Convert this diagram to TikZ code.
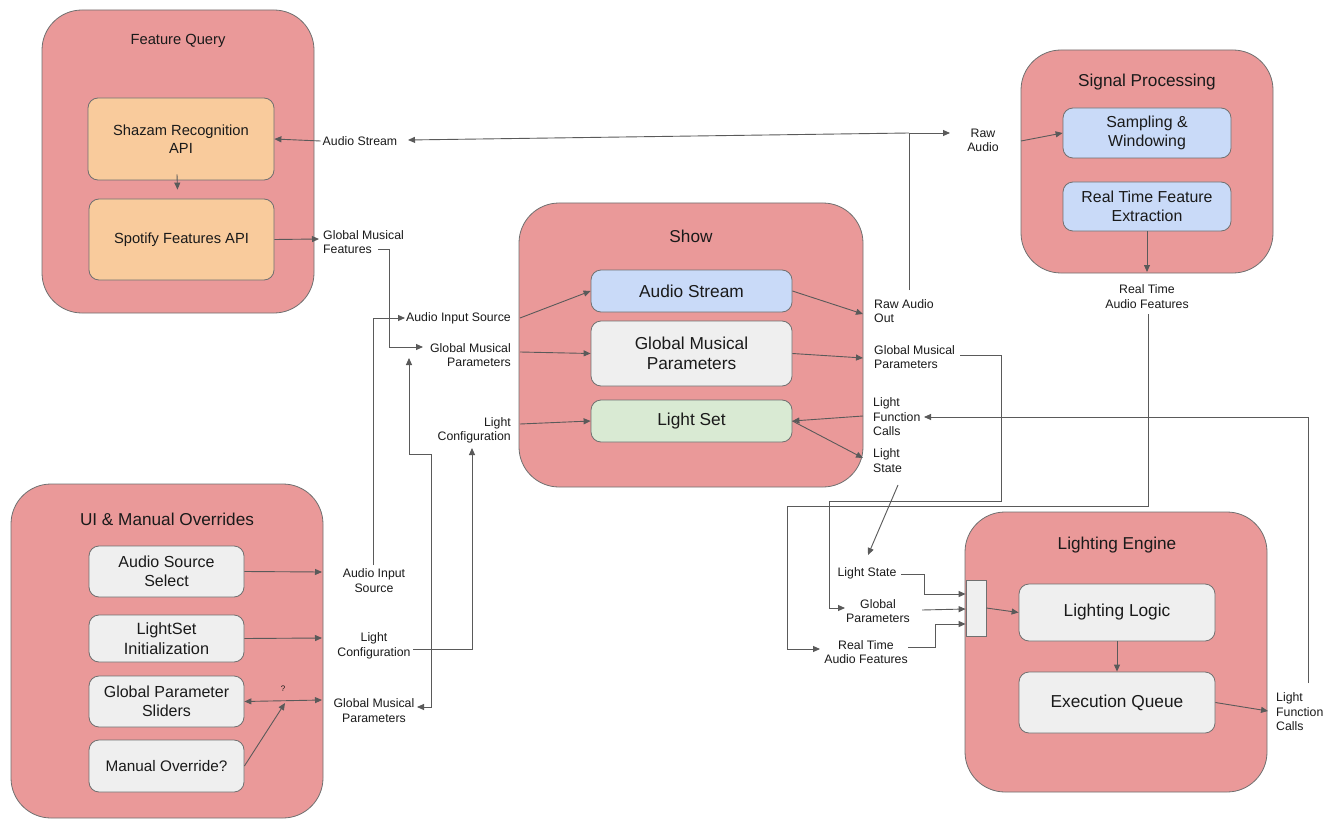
\documentclass[tikz,border=0pt]{standalone}
\usepackage{fontspec}
\setmainfont{Liberation Sans}
\usetikzlibrary{arrows.meta}
\definecolor{pinkF}{HTML}{EA9999}
\definecolor{orangeF}{HTML}{F9CB9C}
\definecolor{blueF}{HTML}{C9DAF8}
\definecolor{grayF}{HTML}{EFEFEF}
\definecolor{greenF}{HTML}{D9EAD3}
\definecolor{edgeC}{HTML}{707070}
\definecolor{lineC}{HTML}{5A5A5A}
\definecolor{txtC}{HTML}{1A1A1A}
\begin{document}
\begin{tikzpicture}[x=1pt,y=-1pt,
  outer/.style={draw=edgeC, fill=pinkF, rounded corners=40pt, line width=0.8pt, inner sep=0pt},
  inner/.style={draw=edgeC, rounded corners=10pt, line width=0.8pt, inner sep=0pt, align=center, text=txtC},
  ttl/.style={inner sep=0pt, text=txtC, font=\fontsize{17.2}{20}\selectfont},
  lbl/.style={inner sep=0pt, text=txtC, font=\fontsize{12.3}{14.5}\selectfont},
  conn/.style={draw=lineC, line width=0.9pt, -{Triangle[length=7pt,width=6pt]}},
  conn2/.style={draw=lineC, line width=0.9pt, {Triangle[length=7pt,width=6pt]}-{Triangle[length=7pt,width=6pt]}},
  plain/.style={draw=lineC, line width=0.9pt}
]
\useasboundingbox (0,0) rectangle (1335,821);
\fill[white] (0,0) rectangle (1335,821);

% ---------- Feature Query ----------
\node[outer, minimum width=272, minimum height=303] (fq) at (178,161.5) {};
\node[ttl, font=\fontsize{14.7}{17}\selectfont] (fqT) at (178,41) {Feature Query};
\node[inner, fill=orangeF, minimum width=186, minimum height=82, font=\fontsize{14.7}{18}\selectfont] (shazam) at (181,139) {Shazam Recognition\\API};
\node[inner, fill=orangeF, minimum width=185, minimum height=81, font=\fontsize{14.7}{18}\selectfont] (spotify) at (181.5,239.5) {Spotify Features API};

% ---------- Signal Processing ----------
\node[outer, minimum width=252, minimum height=223] (sp) at (1147,161.5) {};
\node[ttl] (spT) at (1147,82) {Signal Processing};
\node[inner, fill=blueF, minimum width=168, minimum height=50, font=\fontsize{15.9}{19.5}\selectfont] (samp) at (1147,133) {Sampling \&\\Windowing};
\node[inner, fill=blueF, minimum width=168, minimum height=49, font=\fontsize{15.9}{19.5}\selectfont] (rtfe) at (1147,206.5) {Real Time Feature\\Extraction};

% ---------- Show ----------
\node[outer, minimum width=344, minimum height=284] (show) at (691,345) {};
\node[ttl] (showT) at (691,236) {Show};
\node[inner, fill=blueF, minimum width=201, minimum height=42, font=\fontsize{17.3}{20}\selectfont] (astream) at (691.5,291) {Audio Stream};
\node[inner, fill=grayF, minimum width=201, minimum height=65, font=\fontsize{17.3}{20}\selectfont] (gmp) at (691.5,353.5) {Global Musical\\Parameters};
\node[inner, fill=greenF, minimum width=201, minimum height=42, font=\fontsize{17.3}{20}\selectfont] (lset) at (691.5,421) {Light Set};

% ---------- UI & Manual Overrides ----------
\node[outer, minimum width=312, minimum height=334] (ui) at (167,651) {};
\node[ttl] (uiT) at (167,519) {UI \& Manual Overrides};
\node[inner, fill=grayF, minimum width=155, minimum height=51, font=\fontsize{16}{19.5}\selectfont] (ass) at (166.5,571.5) {Audio Source\\Select};
\node[inner, fill=grayF, minimum width=155, minimum height=47, font=\fontsize{16.3}{20}\selectfont] (lsi) at (166.5,638.5) {LightSet\\Initialization};
\node[inner, fill=grayF, minimum width=155, minimum height=51, font=\fontsize{16}{19.5}\selectfont] (gps) at (166.5,701.5) {Global Parameter\\Sliders};
\node[inner, fill=grayF, minimum width=155, minimum height=52, font=\fontsize{15.3}{19}\selectfont] (mo) at (166.5,766) {Manual Override?};

% ---------- Lighting Engine ----------
\node[outer, minimum width=302, minimum height=280] (le) at (1116,652) {};
\node[ttl] (leT) at (1117,545) {Lighting Engine};
\node[inner, fill=grayF, minimum width=196, minimum height=57, font=\fontsize{17.3}{20}\selectfont] (ll) at (1117,612.5) {Lighting Logic};
\node[inner, fill=grayF, minimum width=196, minimum height=61, font=\fontsize{17.3}{20}\selectfont] (eq) at (1117,702.5) {Execution Queue};
\node[draw=edgeC, fill=grayF, line width=0.8pt, inner sep=0pt, minimum width=20, minimum height=56] (mux) at (976,608) {};

% ---------- Labels ----------
\node[lbl] (lAS) at (360,141) {Audio Stream};
\node[lbl, anchor=west, align=left] (lGMF) at (323,242) {Global Musical\\Features};
\node[lbl, anchor=west] (lAIS) at (406,318) {Audio Input Source};
\node[lbl, anchor=east, align=right] (lGMP1) at (511,355) {Global Musical\\Parameters};
\node[lbl, anchor=east, align=right] (lLC1) at (511,430.5) {Light\\Configuration};
\node[lbl, align=center] (lRA) at (983,140.5) {Raw\\Audio};
\node[lbl, align=center] (lRTAF) at (1147,296.5) {Real Time\\Audio Features};
\node[lbl, anchor=west, align=left] (lRAO) at (874,311) {Raw Audio\\Out};
\node[lbl, anchor=west, align=left] (lGMP2) at (874,357) {Global Musical\\Parameters};
\node[lbl, anchor=west, align=left] (lLFC1) at (873,417) {Light\\Function\\Calls};
\node[lbl, anchor=west, align=left] (lLS1) at (873,460.5) {Light\\State};
\node[lbl] (lLS2) at (867,573.5) {Light State};
\node[lbl, align=center] (lGP) at (878,611) {Global\\Parameters};
\node[lbl, align=center] (lRTAF2) at (866,652) {Real Time\\Audio Features};
\node[lbl, anchor=west, align=left] (lLFC2) at (1276,712) {Light\\Function\\Calls};
\node[lbl, align=center] (lAIS2) at (374,580.5) {Audio Input\\Source};
\node[lbl, align=center] (lLC2) at (374,646) {Light\\Configuration};
\node[lbl, align=center] (lGMP3) at (374,710.5) {Global Musical\\Parameters};
\node[inner sep=0pt, text=txtC, font=\fontsize{8}{9}\selectfont] (qm) at (283,689) {?};

% ---------- connector coordinates ----------
\coordinate (gmfIn) at (319,239);
\coordinate (gmfOut) at (378,249);
\coordinate (gmpA) at (389,249);
\coordinate (gmpB) at (389,347);
\coordinate (gmp1In) at (423,347);
\coordinate (aisA) at (373,565);
\coordinate (aisB) at (373,318);
\coordinate (ais1In) at (405,318);
\coordinate (gmp3In) at (417,707);
\coordinate (gA) at (431,707);
\coordinate (gB) at (431,454);
\coordinate (gC) at (409,454);
\coordinate (gmp1Up) at (409,358);
\coordinate (lc2Out) at (413,649);
\coordinate (lcA) at (472,649);
\coordinate (lc1In) at (472,448);
\coordinate (ais1Out) at (520,318);
\coordinate (gmp1Out) at (520,352);
\coordinate (lc1Out) at (520,424);
\coordinate (raoIn) at (863,314);
\coordinate (gmp2In) at (863,358);
\coordinate (lfc1Out) at (863,416);
\coordinate (ls1In) at (863,458);
\coordinate (raoOut) at (909,290);
\coordinate (rj) at (909,133);
\coordinate (asIn) at (408,140);
\coordinate (raIn) at (950,133);
\coordinate (raOut) at (1021,141);
\coordinate (rtafIn) at (1147,272);
\coordinate (rtafOut) at (1148,314);
\coordinate (rA) at (1148,506);
\coordinate (rB) at (787,506);
\coordinate (rC) at (787,649);
\coordinate (rtaf2In) at (820,649);
\coordinate (gmp2Out) at (960,355);
\coordinate (pA) at (1001,355);
\coordinate (pB) at (1001,501);
\coordinate (pC) at (829,501);
\coordinate (pD) at (829,608);
\coordinate (gpIn) at (845,608);
\coordinate (ls1Out) at (898,485);
\coordinate (ls2In) at (868,555);
\coordinate (ls2Out) at (901,574);
\coordinate (sA) at (924,574);
\coordinate (sB) at (924,594);
\coordinate (gpOut) at (922,610);
\coordinate (rt2Out) at (908,647);
\coordinate (tA) at (935,647);
\coordinate (tB) at (935,624);
\coordinate (lfc2In) at (1268,711);
\coordinate (fA) at (1308,683);
\coordinate (fB) at (1308,417);
\coordinate (lfc1In) at (924,417);
\coordinate (aisOutUI) at (322,572);
\coordinate (lcOutUI) at (322,638);
\coordinate (gmpOutUI) at (322,700);
\coordinate (qIn) at (285,703);

% ---------- connectors ----------
\draw[conn] (lAS.west) ++(-2,0) -- (shazam.east);
\draw[conn] (shazam.south) ++(-4,-6) -- ([xshift=-4pt, yshift=9pt]spotify.north);
\draw[conn] (spotify.east) -- (gmfIn);
\draw[conn] (gmfOut) -- (gmpA) -- (gmpB) -- (gmp1In);
\draw[conn] (aisA) -- (aisB) -- (ais1In);
\draw[conn2] (gmp3In) -- (gA) -- (gB) -- (gC) -- (gmp1Up);
\draw[conn] (lc2Out) -- (lcA) -- (lc1In);
\draw[conn] (ais1Out) -- (astream.west);
\draw[conn] (gmp1Out) -- (gmp.west);
\draw[conn] (lc1Out) -- (lset.west);
\draw[conn] (astream.east) -- (raoIn);
\draw[conn] (gmp.east) -- (gmp2In);
\draw[conn] (lfc1Out) -- (lset.east);
\draw[conn] (lset.east) -- (ls1In);
\draw[plain] (raoOut) -- (rj);
\draw[conn] (rj) -- (asIn);
\draw[conn] (rj) -- (raIn);
\draw[conn] (raOut) -- (samp.west);
\draw[conn] (rtfe.south) -- (rtafIn);
\draw[conn] (rtafOut) -- (rA) -- (rB) -- (rC) -- (rtaf2In);
\draw[conn] (gmp2Out) -- (pA) -- (pB) -- (pC) -- (pD) -- (gpIn);
\draw[conn] (ls1Out) -- (ls2In);
\draw[conn] (ls2Out) -- (sA) -- (sB) -- (sB -| mux.west);
\draw[conn] (gpOut) -- ([yshift=-1pt]mux.west);
\draw[conn] (rt2Out) -- (tA) -- (tB) -- (tB -| mux.west);
\draw[conn] (mux.east) -- (ll.west);
\draw[conn] (ll.south) -- (eq.north);
\draw[conn] (eq.east) -- (lfc2In);
\draw[conn] (fA) -- (fB) -- (lfc1In);
\draw[conn] (ass.east) -- (aisOutUI);
\draw[conn] (lsi.east) -- (lcOutUI);
\draw[conn2] (gps.east) -- (gmpOutUI);
\draw[conn] (mo.east) -- (qIn);
\end{tikzpicture}
\end{document}
